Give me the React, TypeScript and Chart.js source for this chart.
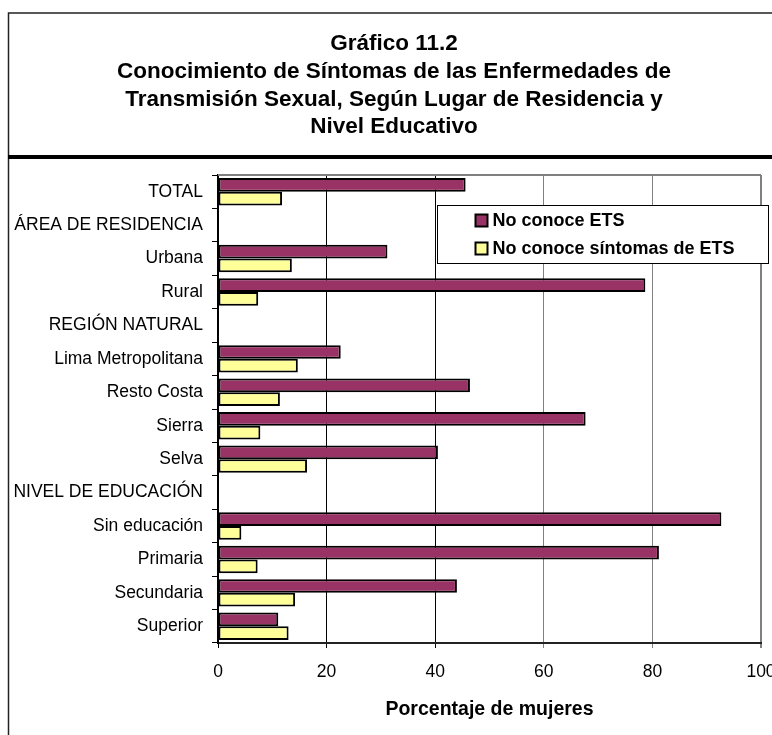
import React, { useEffect, useRef } from "react";
import { Chart, registerables } from "chart.js";
Chart.register(...registerables);

const FONT = "'Liberation Sans', Arial, Helvetica, sans-serif";

const titleLines = [
  "Gráfico 11.2",
  "Conocimiento de Síntomas de las Enfermedades de",
  "Transmisión Sexual, Según Lugar de Residencia y",
  "Nivel Educativo",
];

const categories = [
  "TOTAL",
  "ÁREA DE RESIDENCIA",
  "Urbana",
  "Rural",
  "REGIÓN NATURAL",
  "Lima Metropolitana",
  "Resto Costa",
  "Sierra",
  "Selva",
  "NIVEL DE EDUCACIÓN",
  "Sin educación",
  "Primaria",
  "Secundaria",
  "Superior",
];

const noConoceETS = [45.6, null, 31.2, 78.7, null, 22.6, 46.4, 67.7, 40.5, null, 92.7, 81.2, 44.0, 11.1];
const noConoceSintomas = [11.8, null, 13.6, 7.4, null, 14.7, 11.4, 7.8, 16.4, null, 4.3, 7.3, 14.2, 13.0];

const seriesNames = ["No conoce ETS", "No conoce síntomas de ETS"];
const seriesColors = ["#993366", "#FFFF99"];

const xMin = 0;
const xMax = 100;
const xStep = 20;
const xAxisTitle = "Porcentaje de mujeres";

const framePlugin = {
  id: "frame",
  beforeDraw(chart: any) {
    const ctx = chart.ctx;
    ctx.save();
    ctx.fillStyle = "#fff";
    ctx.fillRect(0, 0, chart.width, chart.height);
    // outer box
    ctx.strokeStyle = "#222";
    ctx.lineWidth = 1.5;
    ctx.beginPath();
    ctx.moveTo(8.5, chart.height + 5);
    ctx.lineTo(8.5, 13);
    ctx.lineTo(chart.width + 5, 13);
    ctx.stroke();
    // separator
    ctx.strokeStyle = "#000";
    ctx.lineWidth = 4;
    ctx.beginPath();
    ctx.moveTo(8, 157);
    ctx.lineTo(chart.width + 5, 157);
    ctx.stroke();
    // title
    ctx.fillStyle = "#000";
    ctx.font = `bold 22.5px ${FONT}`;
    ctx.textAlign = "center";
    ctx.textBaseline = "middle";
    const ys = [44, 72, 100, 127];
    titleLines.forEach((t, i) => ctx.fillText(t, 394, ys[i]));
    ctx.restore();
  },
  afterDraw(chart: any) {
    const ctx = chart.ctx;
    const a = chart.chartArea;
    ctx.save();
    // plot area top border
    ctx.strokeStyle = "#808080";
    ctx.lineWidth = 2;
    ctx.beginPath();
    ctx.moveTo(a.left, a.top);
    ctx.lineTo(a.right, a.top);
    ctx.stroke();
    // legend
    const lx = a.left + 219.5;
    const ly = a.top + 30.5;
    const lw = 331;
    const lh = 58;
    ctx.fillStyle = "#fff";
    ctx.fillRect(lx, ly, lw, lh);
    ctx.strokeStyle = "#000";
    ctx.lineWidth = 1;
    ctx.strokeRect(lx, ly, lw, lh);
    ctx.font = `bold 18px ${FONT}`;
    ctx.textAlign = "left";
    ctx.textBaseline = "middle";
    seriesNames.forEach((name, i) => {
      const cy = ly + 15 + i * 28;
      ctx.fillStyle = seriesColors[i];
      ctx.fillRect(lx + 38, cy - 6, 12, 12);
      ctx.strokeStyle = "#000";
      ctx.lineWidth = 2;
      ctx.strokeRect(lx + 38, cy - 6, 12, 12);
      ctx.fillStyle = "#000";
      ctx.fillText(name, lx + 55, cy + 1);
    });
    ctx.restore();
  },
};

export default function App() {
  const ref = useRef<HTMLCanvasElement | null>(null);
  useEffect(() => {
    if (!ref.current) return;
    const chart = new Chart(ref.current, {
      type: "bar",
      data: {
        labels: categories,
        datasets: [
          {
            label: seriesNames[0],
            data: noConoceETS,
            backgroundColor: seriesColors[0],
            borderColor: "#000",
            borderWidth: 2,
            borderSkipped: false,
            categoryPercentage: 0.82,
            barPercentage: 1,
          },
          {
            label: seriesNames[1],
            data: noConoceSintomas,
            backgroundColor: seriesColors[1],
            borderColor: "#000",
            borderWidth: 2,
            borderSkipped: false,
            categoryPercentage: 0.82,
            barPercentage: 1,
          },
        ],
      } as any,
      options: {
        indexAxis: "y",
        responsive: false,
        animation: false,
        layout: { padding: { top: 175, left: 0, right: 11, bottom: 0 } },
        plugins: {
          legend: { display: false },
          title: { display: false },
          tooltip: { enabled: false },
        },
        scales: {
          x: {
            min: xMin,
            max: xMax,
            ticks: {
              stepSize: xStep,
              color: "#000",
              font: { size: 17.5, family: FONT },
              padding: 14,
              maxRotation: 0,
            },
            grid: {
              color: (c: any) => (c.tick && c.tick.value >= 60 ? "#808080" : "#000"),
              lineWidth: (c: any) => (c.tick && c.tick.value === 100 ? 2 : 1),
              tickLength: 5,
            },
            border: { color: "#222", width: 2 },
            title: {
              display: true,
              text: xAxisTitle,
              color: "#000",
              font: { size: 19.5, weight: "bold", family: FONT },
              padding: { top: 4, bottom: 14 },
            },
            afterFit: (s: any) => {
              s.height = 92;
              s.paddingLeft = 0;
              s.paddingRight = 0;
            },
          },
          y: {
            ticks: {
              color: "#000",
              font: { size: 17.5, family: FONT },
              padding: 9,
              autoSkip: false,
            },
            grid: {
              drawOnChartArea: false,
              offset: true,
              tickLength: 6,
              color: "#000",
            },
            border: { color: "#000", width: 2 },
            afterFit: (s: any) => {
              s.width = 218;
              s.paddingTop = 0;
              s.paddingBottom = 0;
            },
          },
        },
      } as any,
      plugins: [framePlugin],
    });
    return () => chart.destroy();
  }, []);
  return (
    <div style={{ position: "fixed", left: 0, top: 0, width: 772, height: 735, overflow: "hidden" }}>
      <canvas ref={ref} width={772} height={735} style={{ display: "block" }} />
    </div>
  );
}
